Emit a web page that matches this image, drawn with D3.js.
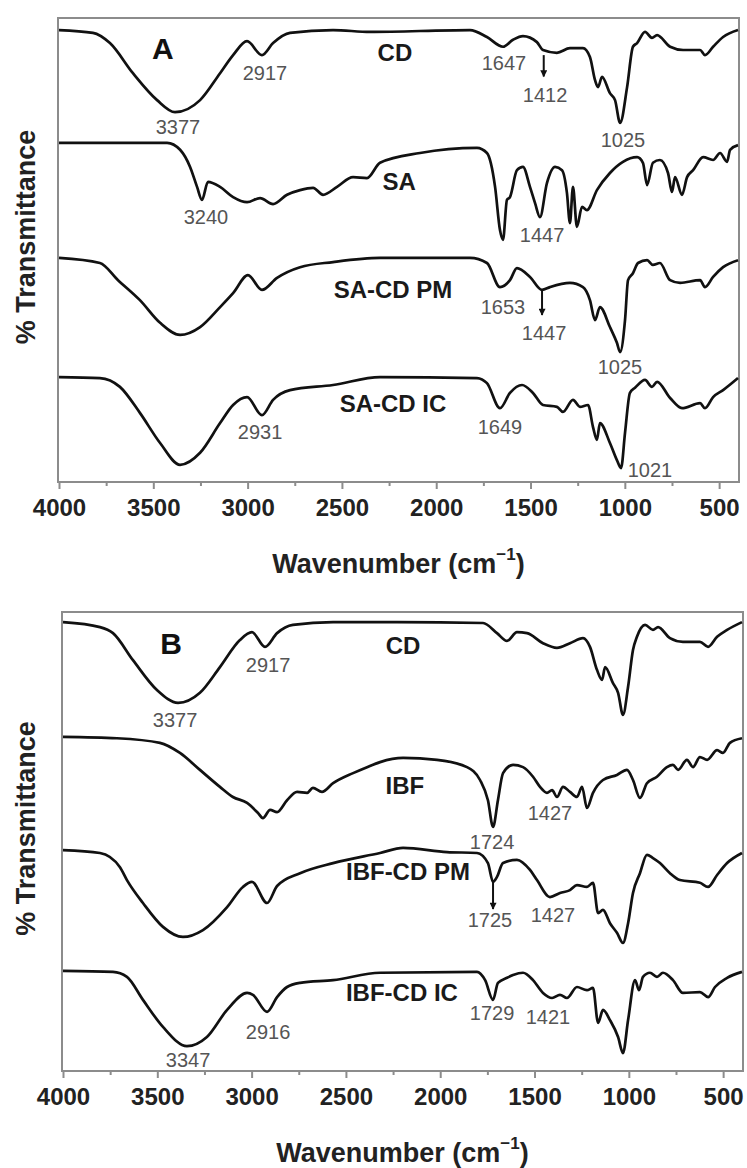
<!DOCTYPE html>
<html>
<head>
<meta charset="utf-8">
<script src="https://cdn.jsdelivr.net/npm/d3@7"></script>
<style>
    body { margin: 0; background: #fff; }
    svg text { font-family: "Liberation Sans", Arial, Helvetica, sans-serif; }
</style>
</head>
<body>
<svg id="chart" width="747" height="1168"></svg>
<script>

// x axis ticks (wavenumber, cm-1)
var wavenumberTicks = [4000, 3500, 3000, 2500, 2000, 1500, 1000, 500];
var minorTicks = [3750, 3250, 2750, 2250, 1750, 1250, 750];

// panel A spectra : [wavenumber, %T (stacked, a.u.)]
var cdA = [[4000,97.4],[3820,96.8],[3730,94.6],[3608,88.1],[3480,82.3],[3385,79.7],[3252,82.3],[3146,88.1],[3077,92.0],[3003,95.0],[2924,92.0],[2865,94.6],[2775,96.8],[2547,97.4],[2351,97.0],[1821,97.4],[1731,95.9],[1646,93.8],[1593,95.3],[1540,96.1],[1466,94.8],[1434,93.1],[1360,92.5],[1291,93.5],[1222,93.5],[1185,91.6],[1158,86.6],[1142,85.1],[1121,87.3],[1079,83.8],[1052,82.3],[1025,77.4],[988,85.1],[957,93.8],[935,94.6],[893,97.0],[856,95.7],[829,96.3],[760,93.8],[691,93.1],[601,93.1],[575,92.0],[532,93.8],[479,95.9],[400,97.4]];

var saA = [[4000,73.1],[3427,73.1],[3358,71.6],[3305,67.9],[3268,63.6],[3242,60.8],[3210,64.7],[3146,63.6],[3077,61.4],[3003,60.3],[2934,61.2],[2865,59.9],[2791,61.9],[2722,62.9],[2653,63.4],[2600,61.9],[2526,63.6],[2441,65.7],[2367,65.5],[2298,68.8],[2086,70.9],[1784,72.0],[1731,70.9],[1688,63.6],[1662,54.3],[1646,52.2],[1625,60.8],[1609,61.4],[1572,67.2],[1540,67.9],[1503,63.6],[1476,60.1],[1450,57.1],[1413,64.4],[1370,67.9],[1333,67.2],[1307,62.3],[1291,55.8],[1275,63.6],[1254,55.0],[1227,59.3],[1201,58.6],[1148,62.9],[1079,66.6],[1010,69.0],[935,70.0],[904,68.8],[882,64.0],[851,68.8],[814,69.4],[771,66.6],[750,62.5],[734,65.7],[697,61.9],[670,65.7],[638,67.2],[585,70.0],[532,69.4],[495,70.9],[458,69.0],[442,71.6],[400,72.6]];

var saCdPm = [[4000,48.3],[3783,47.2],[3687,43.5],[3571,39.2],[3464,34.3],[3358,31.7],[3252,33.4],[3146,37.7],[3077,40.7],[2998,44.6],[2924,41.4],[2844,44.0],[2722,46.3],[2547,47.4],[2298,48.3],[1821,48.3],[1731,47.2],[1662,42.0],[1609,43.5],[1572,46.1],[1503,44.2],[1439,41.4],[1397,42.0],[1291,42.9],[1222,42.0],[1185,39.2],[1158,34.9],[1132,37.7],[1079,33.4],[1042,30.0],[1025,28.0],[999,34.9],[983,43.5],[957,45.0],[930,47.2],[882,47.8],[851,46.8],[814,47.2],[760,43.5],[707,42.9],[601,43.5],[575,42.0],[532,44.2],[479,46.3],[400,47.8]];

var saCdIc = [[4000,22.6],[3783,22.4],[3677,20.5],[3571,14.9],[3464,8.4],[3358,3.7],[3252,6.3],[3146,12.7],[3077,16.6],[3003,18.3],[2924,14.4],[2865,17.7],[2775,19.8],[2547,20.9],[2298,22.6],[1784,22.4],[1731,21.3],[1662,15.9],[1609,19.2],[1545,20.9],[1487,19.2],[1434,16.6],[1360,16.2],[1328,15.1],[1275,17.7],[1238,16.2],[1195,16.6],[1169,11.9],[1148,9.1],[1132,12.7],[1079,8.4],[1042,4.7],[1020,3.0],[999,10.6],[973,19.2],[946,20.3],[893,22.0],[856,20.5],[829,21.6],[760,18.1],[697,15.9],[601,17.0],[575,15.9],[532,18.3],[479,19.8],[400,22.4]];

// panel B spectra
var cdB = [[4000,97.8],[3804,96.7],[3735,95.4],[3629,89.5],[3502,83.0],[3390,80.2],[3274,82.4],[3168,88.0],[3062,93.9],[2998,95.6],[2929,92.4],[2865,95.4],[2781,97.2],[2568,97.8],[2388,97.8],[2229,97.8],[1773,97.6],[1699,95.4],[1646,93.7],[1593,95.6],[1540,95.4],[1455,93.2],[1381,92.2],[1312,93.2],[1243,94.3],[1206,92.4],[1169,87.4],[1142,85.2],[1126,88.0],[1084,84.5],[1057,82.4],[1031,77.6],[1004,83.7],[978,91.7],[957,94.6],[914,97.2],[872,96.1],[845,96.7],[782,94.3],[713,93.5],[623,93.5],[580,92.4],[532,94.6],[479,96.1],[400,97.8]];

var ibf = [[4000,72.8],[3714,72.5],[3486,71.5],[3380,69.3],[3274,65.6],[3168,61.9],[3099,59.7],[3024,58.4],[2966,56.2],[2940,55.1],[2902,56.9],[2865,56.4],[2812,59.0],[2759,60.8],[2706,60.6],[2675,61.7],[2627,60.8],[2568,62.7],[2462,64.9],[2388,66.2],[2319,67.3],[2197,68.2],[2017,67.8],[1858,66.2],[1789,63.4],[1747,59.0],[1720,53.2],[1694,59.0],[1667,64.9],[1614,66.7],[1561,66.2],[1508,64.1],[1471,61.9],[1434,60.6],[1407,61.2],[1381,59.7],[1349,61.9],[1312,60.8],[1275,59.7],[1248,61.9],[1222,57.3],[1190,60.6],[1137,63.4],[1063,64.5],[1010,65.6],[978,63.4],[941,59.5],[904,62.7],[851,64.1],[798,66.2],[766,66.7],[739,65.6],[692,67.8],[660,66.2],[623,68.4],[585,67.8],[532,69.9],[501,69.3],[464,71.5],[400,72.5]];

var ibfCdPm = [[4000,48.1],[3804,47.5],[3698,44.4],[3661,41.6],[3576,36.6],[3470,31.4],[3364,29.2],[3258,30.7],[3130,35.7],[3046,40.1],[2998,41.2],[2918,36.6],[2865,40.3],[2743,43.1],[2568,45.3],[2319,47.5],[2197,48.6],[1964,47.7],[1805,47.5],[1747,45.3],[1720,41.2],[1699,42.3],[1667,45.3],[1593,46.0],[1524,43.8],[1487,41.6],[1418,37.9],[1365,38.8],[1312,39.4],[1275,40.5],[1222,40.1],[1190,41.0],[1163,34.4],[1137,35.1],[1100,32.2],[1063,30.1],[1031,27.9],[1004,32.2],[978,38.8],[941,43.1],[904,47.1],[872,46.4],[835,45.3],[782,43.1],[729,41.6],[623,41.0],[580,40.1],[532,42.7],[479,45.3],[400,47.5]];

var ibfCdIc = [[4000,21.8],[3735,21.6],[3661,20.5],[3576,15.5],[3470,9.6],[3343,5.4],[3237,7.4],[3130,13.3],[3024,17.0],[2993,16.6],[2918,12.9],[2865,16.1],[2812,18.3],[2743,19.2],[2568,19.8],[2319,21.4],[1805,21.6],[1762,19.8],[1720,15.5],[1694,19.2],[1646,20.3],[1614,20.9],[1561,21.4],[1508,19.8],[1455,17.0],[1407,15.9],[1365,16.6],[1328,15.9],[1275,18.3],[1222,17.6],[1190,18.1],[1163,10.5],[1137,13.3],[1100,11.1],[1057,7.4],[1031,3.9],[1004,11.1],[967,19.8],[946,17.6],[925,20.5],[888,21.4],[851,20.5],[819,21.4],[766,19.8],[713,17.0],[623,17.2],[580,16.1],[543,18.3],[479,20.3],[400,21.6]];

// labels : [text, wavenumber, %T]
var namesA = [['CD', 2219, 92.5], ['SA', 2197, 64.7], ['SA-CD PM', 2229, 41.6], ['SA-CD IC', 2229, 17.0]];
var peaksA = [['2917', 2908, 88.1], ['3377', 3369, 76.5], ['1647', 1641, 90.3], ['1412', 1423, 83.4], ['1025', 1010, 73.7],
    ['3240', 3221, 57.1], ['1447', 1439, 53.2],
    ['1653', 1646, 37.7], ['1447', 1428, 32.1], ['1025', 1026, 24.8],
    ['2931', 2934, 10.8], ['1649', 1662, 11.9], ['1021', 867, 2.6]];
var arrowsA = [[1430, 92.0, 87.4], [1439, 41.4, 36.0]];

var namesB = [['CD', 2197, 92.8], ['IBF', 2187, 62.3], ['IBF-CD PM', 2171, 43.4], ['IBF-CD IC', 2203, 17.2]];
var peaksB = [['2917', 2913, 88.5], ['3377', 3406, 76.5], ['1724', 1725, 49.9], ['1427', 1418, 56.2],
    ['1725', 1736, 32.9], ['1427', 1402, 34.0],
    ['2916', 2913, 8.5], ['3347', 3337, 2.4], ['1729', 1725, 12.6], ['1421', 1429, 11.8]];
var arrowsB = [[1720, 41.2, 35.3]];

var panels = [
    { letter : 'A', letterAt : [3449, 93.5], left : 59, right : 738, top : 18, bottom : 482,
      series : [cdA, saA, saCdPm, saCdIc], names : namesA, peaks : peaksA, arrows : arrowsA },
    { letter : 'B', letterAt : [3427, 93.2], left : 63, right : 742, top : 612, bottom : 1071,
      series : [cdB, ibf, ibfCdPm, ibfCdIc], names : namesB, peaks : peaksB, arrows : arrowsB }
];

var svg = d3.select('#chart');
var frameColor = '#8c8c8c';

//화살표 머리 (선 방향을 따라감)
svg.append('defs').append('marker')
    .attr('id', 'head')
    .attr('viewBox', '0 0 10 10')
    .attr('refX', 9).attr('refY', 5)
    .attr('markerWidth', 9).attr('markerHeight', 7)
    .attr('markerUnits', 'userSpaceOnUse')
    .attr('orient', 'auto')
    .append('path')
    .attr('d', 'M0,0 L10,5 L0,10 Z')
    .attr('fill', '#111');

function drawPanel(p) {

    var x = d3.scaleLinear().domain([4000, 400]).range([p.left, p.right]);
    var y = d3.scaleLinear().domain([0, 100]).range([p.bottom, p.top]);

    var g = svg.append('g').attr('class', 'panel-' + p.letter);

    // minor ticks
    var minor = g.append('g')
        .attr('transform', 'translate(0,' + p.bottom + ')')
        .call(d3.axisBottom(x).tickValues(minorTicks).tickSize(4).tickFormat(''));
    minor.select('.domain').remove();
    minor.selectAll('line').attr('stroke', frameColor).attr('stroke-width', 2);

    // major ticks + labels
    var major = g.append('g')
        .attr('transform', 'translate(0,' + p.bottom + ')')
        .call(d3.axisBottom(x).tickValues(wavenumberTicks).tickSize(7).tickPadding(10).tickFormat(d3.format('d')));
    major.select('.domain').remove();
    major.selectAll('line').attr('stroke', frameColor).attr('stroke-width', 2);
    major.selectAll('text')
        .attr('font-size', 24)
        .attr('font-weight', 'bold')
        .attr('fill', '#222');

    // frame
    g.append('rect')
        .attr('x', p.left - 1)
        .attr('y', p.top)
        .attr('width', p.right - p.left + 2)
        .attr('height', p.bottom - p.top)
        .attr('fill', 'none')
        .attr('stroke', frameColor)
        .attr('stroke-width', 2);

    var line = d3.line()
        .x(function(d) { return x(d[0]); })
        .y(function(d) { return y(d[1]); })
        .curve(d3.curveMonotoneX);

    g.selectAll('path.trace')
        .data(p.series)
        .enter().append('path')
        .attr('class', 'trace')
        .attr('d', line)
        .attr('fill', 'none')
        .attr('stroke', '#111')
        .attr('stroke-width', 2.7)
        .attr('stroke-linejoin', 'round');

    // arrows
    g.selectAll('line.arrow')
        .data(p.arrows)
        .enter().append('line')
        .attr('class', 'arrow')
        .attr('x1', function(d) { return x(d[0]); })
        .attr('x2', function(d) { return x(d[0]); })
        .attr('y1', function(d) { return y(d[1]); })
        .attr('y2', function(d) { return y(d[2]); })
        .attr('stroke', '#111')
        .attr('stroke-width', 2)
        .attr('marker-end', 'url(#head)');

    // series names
    g.selectAll('text.name')
        .data(p.names)
        .enter().append('text')
        .attr('class', 'name')
        .attr('x', function(d) { return x(d[1]); })
        .attr('y', function(d) { return y(d[2]); })
        .attr('dy', '0.36em')
        .attr('text-anchor', 'middle')
        .attr('font-size', 24)
        .attr('font-weight', 'bold')
        .attr('fill', '#1a1a1a')
        .text(function(d) { return d[0]; });

    // peak positions
    g.selectAll('text.peak')
        .data(p.peaks)
        .enter().append('text')
        .attr('class', 'peak')
        .attr('x', function(d) { return x(d[1]); })
        .attr('y', function(d) { return y(d[2]); })
        .attr('dy', '0.36em')
        .attr('text-anchor', 'middle')
        .attr('font-size', 20)
        .attr('fill', '#555')
        .text(function(d) { return d[0]; });

    // panel letter
    g.append('text')
        .attr('x', x(p.letterAt[0]))
        .attr('y', y(p.letterAt[1]))
        .attr('dy', '0.36em')
        .attr('text-anchor', 'middle')
        .attr('font-size', 30)
        .attr('font-weight', 'bold')
        .attr('fill', '#111')
        .text(p.letter);

    // axis titles
    var xt = g.append('text')
        .attr('x', (p.left + p.right) / 2)
        .attr('y', p.bottom + 91)
        .attr('text-anchor', 'middle')
        .attr('font-size', 27)
        .attr('font-weight', 'bold')
        .attr('fill', '#222');
    xt.append('tspan').text('Wavenumber (cm');
    xt.append('tspan').attr('dy', -13).attr('font-size', 17).text('\u22121');
    xt.append('tspan').attr('dy', 13).text(')');

    g.append('text')
        .attr('transform', 'translate(35,' + ((p.top + p.bottom) / 2 - 13) + ') rotate(-90)')
        .attr('text-anchor', 'middle')
        .attr('font-size', 27)
        .attr('font-weight', 'bold')
        .attr('fill', '#222')
        .text('% Transmittance');
}

panels.forEach(drawPanel);

</script>
</body>
</html>
